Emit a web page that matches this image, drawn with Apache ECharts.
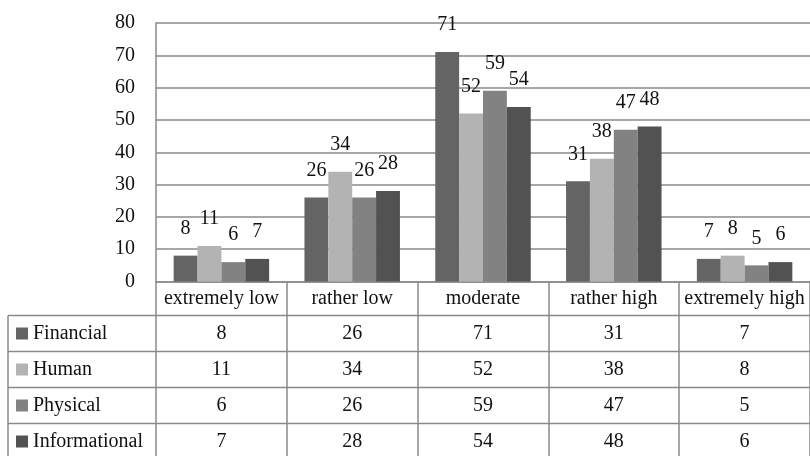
<!DOCTYPE html>
<html>
<head>
<meta charset="utf-8">
<script src="https://cdn.jsdelivr.net/npm/echarts@6/dist/echarts.min.js"></script>
<style>
  html, body { margin: 0; padding: 0; background: #fff; }
  #chart { width: 810px; height: 456px; }
</style>
</head>
<body>
<div id="chart"></div>
<script>
const categories = ['extremely low', 'rather low', 'moderate', 'rather high', 'extremely high'];
const seriesNames = ['Financial', 'Human', 'Physical', 'Informational'];
const financial = [8, 26, 71, 31, 7];
const human = [11, 34, 52, 38, 8];
const physical = [6, 26, 59, 47, 5];
const informational = [7, 28, 54, 48, 6];
const yTicks = [0, 10, 20, 30, 40, 50, 60, 70, 80];

const values = [financial, human, physical, informational];
const colors = ['#646464', '#b3b3b3', '#828282', '#525252'];
const font = 'Liberation Serif';
const fs = 20;
const lineColor = '#8a8a8a';

// plot / table layout
const plotLeft = 156, plotTop = 23, plotBottom = 281.5, plotWidth = 660;
const headH = 34, rowH = 36, tableLeft = 8;
const legendLine = 20;

const chart = echarts.init(document.getElementById('chart'));

// table rows are the category labels, one line per series
const labelFmt = (name, idx) => {
  let s = '{h|' + name + '}';
  values.forEach(v => { s += '\n{v|' + v[idx] + '}'; });
  return s;
};

const tableLines = [];
for (let i = 0; i < seriesNames.length; i++) {
  const y = plotBottom + headH + i * rowH;
  tableLines.push({
    type: 'line',
    shape: { x1: tableLeft, y1: y, x2: 810, y2: y },
    style: { stroke: lineColor, lineWidth: 1.5 },
    silent: true
  });
}
tableLines.push({
  type: 'line',
  shape: { x1: tableLeft, y1: plotBottom + headH, x2: tableLeft, y2: 456 },
  style: { stroke: lineColor, lineWidth: 1.5 },
  silent: true
});

chart.setOption({
  animation: false,
  textStyle: { fontFamily: font },
  color: colors,
  grid: { left: plotLeft, top: plotTop, width: plotWidth, height: plotBottom - plotTop, containLabel: false },
  legend: {
    orient: 'vertical',
    left: 16,
    top: plotBottom + headH + (rowH - legendLine) / 2,
    padding: 0,
    itemWidth: 12,
    itemHeight: 12,
    itemGap: rowH - legendLine,
    icon: 'rect',
    data: seriesNames,
    selectedMode: false,
    textStyle: { fontFamily: font, fontSize: fs, color: '#111', lineHeight: legendLine }
  },
  xAxis: {
    type: 'category',
    data: categories,
    axisLine: { lineStyle: { color: lineColor, width: 1.5 } },
    axisTick: { show: true, length: 456 - plotBottom, lineStyle: { color: lineColor, width: 1.5 } },
    axisLabel: {
      interval: 0,
      margin: 0,
      color: '#111',
      fontFamily: font,
      formatter: labelFmt,
      rich: {
        h: { fontFamily: font, fontSize: fs, lineHeight: headH, color: '#111' },
        v: { fontFamily: font, fontSize: fs, lineHeight: rowH, color: '#111' }
      }
    }
  },
  yAxis: {
    type: 'value',
    min: yTicks[0],
    max: yTicks[yTicks.length - 1],
    interval: 10,
    axisLine: { show: true, lineStyle: { color: lineColor, width: 1.5 } },
    axisTick: { show: false },
    axisLabel: { margin: 21, fontFamily: font, fontSize: fs, color: '#111' },
    splitLine: { lineStyle: { color: lineColor, width: 1.5 } }
  },
  series: seriesNames.map((name, i) => ({
    name: name,
    type: 'bar',
    data: values[i],
    barGap: '0%',
    barCategoryGap: '27%',
    label: { show: true, position: 'top', distance: 17, fontFamily: font, fontSize: fs, color: '#111' }
  })),
  graphic: tableLines
});
</script>
</body>
</html>
